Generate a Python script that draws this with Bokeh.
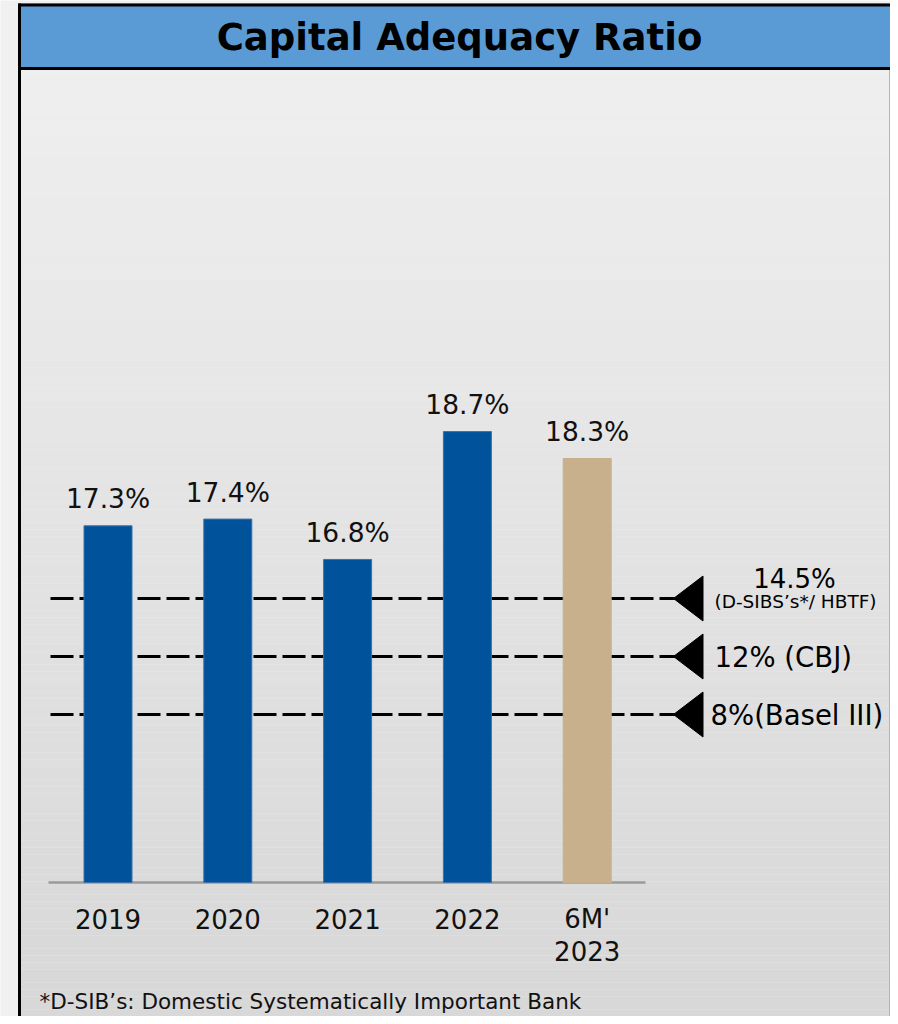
import numpy as np
from bokeh.plotting import figure
from bokeh.models import Range1d
from bokeh.core.properties import value
from bokeh.embed import file_html
from bokeh.resources import INLINE

# ---------------- data ----------------
title = "Capital Adequacy Ratio"
categories = ["2019", "2020", "2021", "2022", "6M'\n2023"]
ratios = [17.3, 17.4, 16.8, 18.7, 18.3]
ratio_labels = ["17.3%", "17.4%", "16.8%", "18.7%", "18.3%"]
bar_colors = ["#00539A", "#00539A", "#00539A", "#00539A", "#C7B08B"]
threshold_labels = ["14.5%", "12% (CBJ)", "8%(Basel III)"]
threshold_notes = ["(D-SIBS’s*/ HBTF)", "", ""]
footnote = "*D-SIB’s: Domestic Systematically Important Bank"

# ---------------- layout (canvas pixels) ----------------
W, H = 890, 1016
AXIS_MIN = 12.0          # value at the bar baseline
BASE_PX = 882            # canvas y (from top) of the baseline
PPU = 67.3               # pixels per percentage point
X0_PX = 107.5            # canvas x of first category centre
XSTEP = 119.8            # pixels between categories
FONT = value("DejaVu Sans")


def yd(py):
    return AXIS_MIN + (BASE_PX - py) / PPU


def xd(px):
    return (px - X0_PX) / XSTEP


p = figure(width=W, height=H, output_backend="svg", toolbar_location=None,
           x_range=Range1d(xd(0), xd(W)), y_range=Range1d(yd(H), yd(0)),
           x_axis_location=None, y_axis_location=None, min_border=0)
p.grid.visible = False
p.outline_line_color = None
p.background_fill_color = "#f0f0f0"
p.border_fill_color = "#f0f0f0"

# panel gradient background
n = 140
edges = np.linspace(69, H, n + 1)
greys = np.linspace(239, 216, n).astype(int)
cols = ["#%02x%02x%02x" % (g, g, g) for g in greys]
p.quad(left=xd(20), right=xd(W), top=[yd(e) for e in edges[:-1]],
       bottom=[yd(e) for e in edges[1:]], fill_color=cols, line_color=None)

# right edge line
p.quad(left=xd(888.5), right=xd(890), top=yd(69), bottom=yd(H),
       fill_color="#b4b4b4", line_color=None)

# header
p.quad(left=xd(18), right=xd(W), top=yd(3), bottom=yd(69),
       fill_color="#5B9BD5", line_color=None)
p.quad(left=xd(18), right=xd(W), top=yd(3), bottom=yd(6),
       fill_color="#000000", line_color=None)
p.quad(left=xd(18), right=xd(W), top=yd(66.5), bottom=yd(69.5),
       fill_color="#000000", line_color=None)
# left border
p.quad(left=xd(17.5), right=xd(20.5), top=yd(3), bottom=yd(H),
       fill_color="#000000", line_color=None)

p.text(x=[xd(459)], y=[yd(37)], text=[title], text_font=value("DejaVu Sans"),
       text_font_style="bold", text_font_size="37px", text_align="center",
       text_baseline="alphabetic", text_color="#000000")

# threshold dashed lines and triangles
thr_px = [598, 656, 714]
for i, ty in enumerate(thr_px):
    p.line(x=[xd(50), xd(675)], y=[yd(ty), yd(ty)], line_color="#000000",
           line_width=3, line_dash="23 6")
    p.patch(x=[xd(673), xd(702.5), xd(702.5)],
            y=[yd(ty), yd(ty - 22.5), yd(ty + 22.5)],
            fill_color="#000000", line_color="#000000", line_width=1)

p.text(x=[xd(794)], y=[yd(578)], text=[threshold_labels[0]], text_font=FONT,
       text_font_size="26px", text_align="center", text_baseline="alphabetic")
p.text(x=[xd(795)], y=[yd(601)], text=[threshold_notes[0]], text_font=FONT,
       text_font_size="18.5px", text_align="center", text_baseline="alphabetic")
p.text(x=[xd(714)], y=[yd(656)], text=[threshold_labels[1]], text_font=FONT,
       text_font_size="27.5px", text_align="left", text_baseline="alphabetic")
p.text(x=[xd(710)], y=[yd(714)], text=[threshold_labels[2]], text_font=FONT,
       text_font_size="27.5px", text_align="left", text_baseline="alphabetic")

# baseline
p.line(x=[xd(48), xd(645)], y=[AXIS_MIN, AXIS_MIN], line_color="#9a9a9a",
       line_width=2.5)

# bars
xs = list(range(len(categories)))
p.vbar(x=xs, top=ratios, bottom=AXIS_MIN, width=48 / XSTEP,
       fill_color=bar_colors,
       line_color=["#3d70a8"] * 4 + ["#C7B08B"], line_width=1)

p.text(x=xs, y=ratios, text=ratio_labels, text_font=FONT,
       text_font_size="26.5px", text_align="center", text_baseline="alphabetic",
       y_offset=-27, text_color="#111111")

# category labels
for i, c in enumerate(categories):
    for j, line in enumerate(c.split("\n")):
        p.text(x=[xs[i]], y=[yd(918 + 32 * j)], text=[line], text_font=FONT,
               text_font_size="26px", text_align="center",
               text_baseline="alphabetic", text_color="#111111")

p.text(x=[xd(39)], y=[yd(1001)], text=[footnote], text_font=FONT,
       text_font_size="21.5px", text_align="left", text_baseline="alphabetic",
       text_color="#111111")

open("out.html", "w").write(file_html(p, INLINE))
